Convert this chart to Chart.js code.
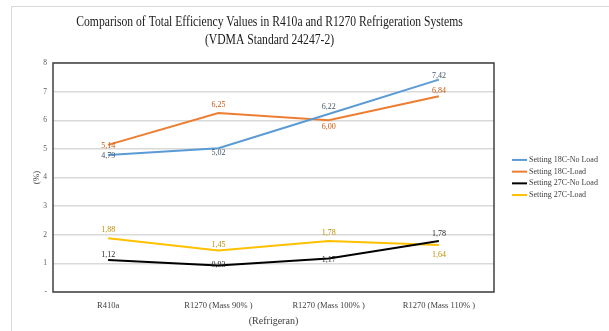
<!DOCTYPE html>
<html>
<head>
<meta charset="utf-8">
<script src="https://cdn.jsdelivr.net/npm/chart.js@4/dist/chart.umd.min.js"></script>
<style>
  html, body { margin: 0; padding: 0; background: #fff; overflow: hidden; }
  #wrap { width: 609px; height: 331px; position: relative; }
</style>
</head>
<body>
<div id="wrap"><canvas id="c" width="609" height="331"></canvas></div>
<script>
// Categories and measured total efficiency values (%)
const categories = ['R410a', 'R1270 (Mass 90% )', 'R1270 (Mass 100% )', 'R1270 (Mass 110% )'];
const seriesNames = ['Setting 18C-No Load', 'Setting 18C-Load', 'Setting 27C-No Load', 'Setting 27C-Load'];
const setting18NoLoad = [4.79, 5.02, 6.22, 7.42];
const setting18Load   = [5.14, 6.25, 6.00, 6.84];
const setting27NoLoad = [1.12, 0.93, 1.17, 1.78];
const setting27Load   = [1.88, 1.45, 1.78, 1.64];
const yTicks = [0, 1, 2, 3, 4, 5, 6, 7, 8];
const titleLines = ['Comparison of Total Efficiency Values in R410a and R1270 Refrigeration Systems', '(VDMA Standard 24247-2)'];

const SERIF = "'Liberation Serif', 'Times New Roman', serif";

// Value label placement per point: vertical shift of the label from its point (px)
const labelShift = [
  [1, 5, -7, -4],
  [1, -8, 7, -5],
  [-5, 0, 1, -7],
  [-8, -6, -8, 10]
];

function makeSet(i, values, color, labelColor) {
  return {
    label: seriesNames[i],
    data: values,
    borderColor: color,
    backgroundColor: color,
    borderWidth: 2,
    pointRadius: 0,
    pointHoverRadius: 0,
    tension: 0,
    fill: false,
    labelColor: labelColor,
    labelShift: labelShift[i]
  };
}

// Light outer frame of the chart object
const outerFrame = {
  id: 'outerFrame',
  beforeDraw(chart) {
    const ctx = chart.ctx;
    ctx.save();
    ctx.fillStyle = '#fff';
    ctx.fillRect(0, 0, chart.width, chart.height);
    ctx.strokeStyle = '#d9d9d9';
    ctx.lineWidth = 1;
    ctx.strokeRect(11.5, 6.5, chart.width, chart.height);
    ctx.restore();
  }
};

// Dark border round the plot area
const plotFrame = {
  id: 'plotFrame',
  beforeDatasetsDraw(chart) {
    const { ctx, chartArea: a } = chart;
    ctx.save();
    ctx.strokeStyle = '#404040';
    ctx.lineWidth = 1.5;
    ctx.strokeRect(a.left, a.top, a.right - a.left, a.bottom - a.top);
    ctx.restore();
  }
};

// Two-line title, narrow serif setting
const titleBlock = {
  id: 'titleBlock',
  afterDraw(chart) {
    const ctx = chart.ctx;
    const a = chart.chartArea;
    const cx = (a.left + a.right) / 2 - 4;
    ctx.save();
    ctx.fillStyle = '#1a1a1a';
    ctx.font = '15px ' + SERIF;
    ctx.textAlign = 'center';
    ctx.textBaseline = 'middle';
    const sx = 0.775;
    ctx.translate(cx, 0);
    ctx.scale(sx, 1);
    ctx.fillText(titleLines[0], 0, 22);
    ctx.fillText(titleLines[1], 0, 40);
    ctx.restore();
  }
};

// Point value labels, decimal comma
const valueLabels = {
  id: 'valueLabels',
  afterDatasetsDraw(chart) {
    const ctx = chart.ctx;
    ctx.save();
    ctx.font = '8px ' + SERIF;
    ctx.textAlign = 'center';
    ctx.textBaseline = 'middle';
    chart.data.datasets.forEach((ds, di) => {
      const meta = chart.getDatasetMeta(di);
      meta.data.forEach((pt, i) => {
        const txt = ds.data[i].toFixed(2).replace('.', ',');
        ctx.fillStyle = ds.labelColor;
        ctx.fillText(txt, pt.x, pt.y + ds.labelShift[i]);
      });
    });
    ctx.restore();
  }
};

// Legend on the right, short line swatches
const sideLegend = {
  id: 'sideLegend',
  afterDraw(chart) {
    const ctx = chart.ctx;
    const a = chart.chartArea;
    const x0 = a.right + 18;
    const yc = (a.top + a.bottom) / 2;
    const step = 11.7;
    const n = chart.data.datasets.length;
    ctx.save();
    ctx.font = '8px ' + SERIF;
    ctx.textBaseline = 'middle';
    ctx.textAlign = 'left';
    chart.data.datasets.forEach((ds, i) => {
      const y = yc + (i - (n - 1) / 2) * step;
      ctx.strokeStyle = ds.borderColor;
      ctx.lineWidth = 2;
      ctx.beginPath();
      ctx.moveTo(x0, y);
      ctx.lineTo(x0 + 15, y);
      ctx.stroke();
      ctx.fillStyle = '#404040';
      ctx.fillText(ds.label, x0 + 17, y);
    });
    ctx.restore();
  }
};

new Chart(document.getElementById('c'), {
  type: 'line',
  data: {
    labels: categories,
    datasets: [
      makeSet(0, setting18NoLoad, '#5B9BD5', '#44546A'),
      makeSet(1, setting18Load, '#ED7D31', '#C55A11'),
      makeSet(2, setting27NoLoad, '#000000', '#262626'),
      makeSet(3, setting27Load, '#FFC000', '#BF9000')
    ]
  },
  options: {
    responsive: false,
    animation: false,
    devicePixelRatio: 1,
    layout: { padding: { top: 63, left: 25, right: 115, bottom: 0 } },
    plugins: {
      legend: { display: false },
      title: { display: false },
      tooltip: { enabled: false }
    },
    scales: {
      x: {
        offset: true,
        grid: { display: false, drawTicks: false },
        border: { display: false },
        ticks: {
          padding: 9,
          color: '#404040',
          font: { family: SERIF, size: 8.5 },
          maxRotation: 0
        },
        title: {
          display: true,
          text: '(Refrigeran)',
          color: '#404040',
          font: { family: SERIF, size: 10 },
          padding: { top: 0, bottom: 4 }
        },
        afterFit(scale) { scale.height = 39; }
      },
      y: {
        min: 0,
        max: 8,
        afterBuildTicks(scale) { scale.ticks = yTicks.map(v => ({ value: v })); },
        grid: { color: '#d9d9d9', lineWidth: 1.5, drawTicks: false },
        border: { display: false },
        ticks: {
          padding: 6,
          color: '#595959',
          font: { family: SERIF, size: 7.5 },
          callback: v => (v === 0 ? '-' : v)
        },
        title: {
          display: true,
          text: '(%)',
          color: '#404040',
          font: { family: SERIF, size: 9 },
          padding: { top: 6, bottom: 0 }
        },
        afterFit(scale) { scale.width = 28; }
      }
    }
  },
  plugins: [outerFrame, plotFrame, valueLabels, sideLegend, titleBlock]
});
</script>
</body>
</html>
